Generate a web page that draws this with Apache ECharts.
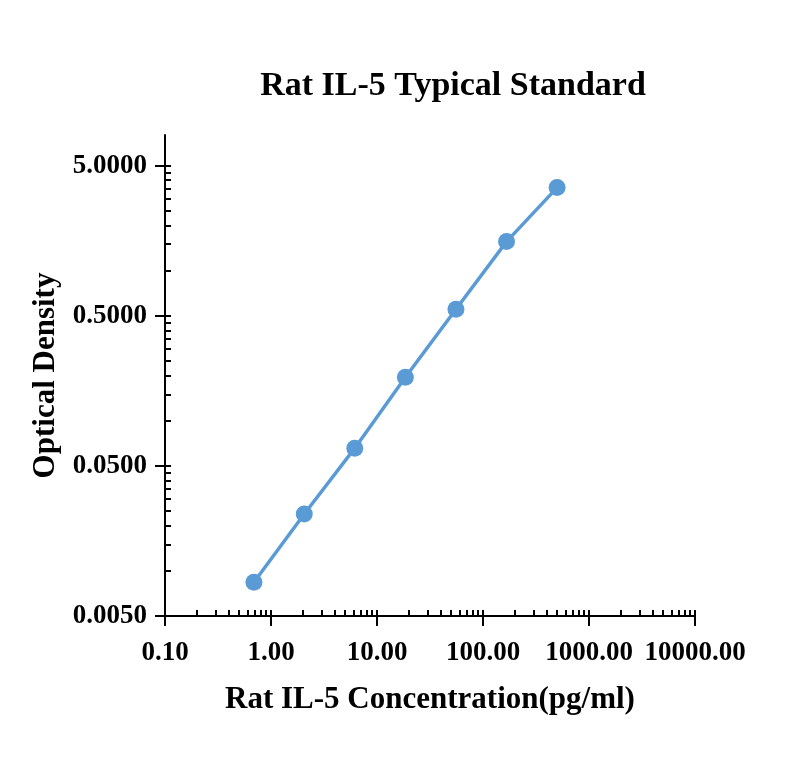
<!DOCTYPE html>
<html>
<head>
<meta charset="utf-8">
<script src="https://cdn.jsdelivr.net/npm/echarts@6/dist/echarts.min.js"></script>
<style>
  html, body { margin: 0; padding: 0; background: #fff; }
  #chart { width: 800px; height: 776px; }
</style>
</head>
<body>
<div id="chart"></div>
<script>
// Standard curve (pg/ml vs OD)
const concentration = [0.69, 2.06, 6.17, 18.52, 55.56, 166.67, 500];
const opticalDensity = [0.0084, 0.0239, 0.0656, 0.1945, 0.552, 1.56, 3.57];

// Tick labels
const xTickValues = [0.1, 1, 10, 100, 1000, 10000];
const yTickValues = [0.005, 0.05, 0.5, 5];
const yMax = 8;

const font = "'Liberation Serif', 'Times New Roman', serif";
const log10 = v => Math.log10(v);

// minor ticks at 2..9 times each decade
function minorTicks(starts) {
  const out = [];
  starts.forEach(s => {
    for (let k = 2; k <= 10; k++) out.push(log10(s * k));
  });
  return out;
}

const xMin = log10(xTickValues[0]);
const xMaxV = log10(xTickValues[xTickValues.length - 1]);
const yMin = log10(yTickValues[0]);
const yMaxV = log10(yMax);

const xMinor = minorTicks(xTickValues.slice(0, -1)).filter(v => v <= xMaxV + 1e-9);
const yMinor = minorTicks(yTickValues).filter(v => v <= yMaxV);

const points = concentration.map((c, i) => [log10(c), log10(opticalDensity[i])]);

const axisLineStyle = { color: '#000', width: 2 };
const labelStyle = { color: '#000', fontFamily: font, fontWeight: 'bold', fontSize: 27 };
const nameStyle = { color: '#000', fontFamily: font, fontWeight: 'bold', fontSize: 31 };

const option = {
  animation: false,
  title: {
    text: 'Rat IL-5 Typical Standard',
    left: 448,
    textAlign: 'center',
    top: 64,
    textStyle: { color: '#000', fontFamily: font, fontWeight: 'bold', fontSize: 34 }
  },
  grid: { left: 165, right: 105, top: 135, bottom: 160 },
  xAxis: [
    {
      type: 'value',
      min: xMin,
      max: xMaxV,
      name: 'Rat IL-5 Concentration(pg/ml)',
      nameLocation: 'middle',
      nameGap: 68,
      nameTextStyle: nameStyle,
      axisLine: { onZero: false, lineStyle: axisLineStyle },
      axisTick: { customValues: xTickValues.map(log10), length: 10, lineStyle: axisLineStyle },
      axisLabel: Object.assign({
        customValues: xTickValues.map(log10),
        margin: 24,
        formatter: v => Math.pow(10, v).toFixed(2)
      }, labelStyle),
      splitLine: { show: false }
    },
    {
      type: 'value',
      min: xMin,
      max: xMaxV,
      position: 'bottom',
      axisLine: { show: false, onZero: false },
      axisTick: { customValues: xMinor, inside: true, length: 6, lineStyle: axisLineStyle },
      axisLabel: { show: false },
      splitLine: { show: false }
    }
  ],
  yAxis: [
    {
      type: 'value',
      min: yMin,
      max: yMaxV,
      name: 'Optical Density',
      nameLocation: 'middle',
      nameGap: 101,
      nameTextStyle: nameStyle,
      axisLine: { onZero: false, lineStyle: axisLineStyle },
      axisTick: { customValues: yTickValues.map(log10), length: 10, lineStyle: axisLineStyle },
      axisLabel: Object.assign({
        customValues: yTickValues.map(log10),
        margin: 18,
        formatter: v => Math.pow(10, v).toFixed(4)
      }, labelStyle),
      splitLine: { show: false }
    },
    {
      type: 'value',
      min: yMin,
      max: yMaxV,
      position: 'left',
      axisLine: { show: false, onZero: false },
      axisTick: { customValues: yMinor, inside: true, length: 6, lineStyle: axisLineStyle },
      axisLabel: { show: false },
      splitLine: { show: false }
    }
  ],
  series: [
    {
      type: 'line',
      data: points,
      symbol: 'circle',
      symbolSize: 17,
      lineStyle: { color: '#5b9bd5', width: 3.5 },
      itemStyle: { color: '#5b9bd5' }
    }
  ]
};

const chart = echarts.init(document.getElementById('chart'));
chart.setOption(option);
</script>
</body>
</html>
